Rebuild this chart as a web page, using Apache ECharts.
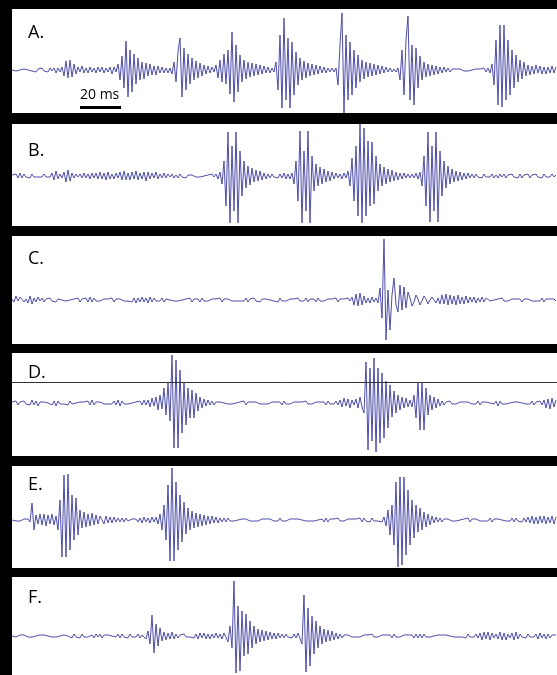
<!DOCTYPE html>
<html>
<head>
<meta charset="utf-8">
<title>Waveforms A-F</title>
<script src="https://cdn.jsdelivr.net/npm/echarts@6/dist/echarts.min.js"></script>
<style>
  html, body { margin: 0; padding: 0; background: #000; }
  #chart { width: 557px; height: 675px; }
</style>
</head>
<body>
<div id="chart"></div>
<script>
  // 每个面板的标签
  const panelLabels = ['A.', 'B.', 'C.', 'D.', 'E.', 'F.'];
  const scaleBarLabel = '20 ms';

  // waveform samples, one every ~1 ms, amplitude in screen units (+ = up)
  const waveA = [
    0,1,-1,1,0,-1,1,-1,0,1,-1,1,-2,1,-1,2,-1,1,-2,2,-1,2,-3,2,-2,3,
    -6,9,-8,10,-7,6,-4,
    3,-2,4,-3,2,-3,3,-2,2,-3,3,-2,3,-3,2,-2,3,-4,3,-2,
    6,-10,14,-18,29,-27,20,-22,16,-14,12,-10,
    8,-9,7,-6,6,-5,4,-5,4,-3,3,-3,2,-3,2,
    -4,8,-12,18,32,-27,22,-20,16,-14,12,-10,9,-8,
    7,-6,5,-4,4,-3,3,-2,
    5,-8,10,-12,16,-14,20,-24,38,-32,25,-22,15,-12,
    10,-9,8,-7,7,-6,6,-5,5,-4,4,-3,3,-3,2,-2,
    8,-20,35,-38,52,-30,32,-38,28,-25,18,-15,12,
    -10,9,-8,7,-6,6,-5,5,-4,4,-3,3,-3,2,-2,2,-2,2,
    -15,25,57,-43,35,-30,28,-25,20,-18,15,-12,10,
    -9,8,-7,7,-6,6,-5,5,-4,4,-3,3,-2,2,-2,1,-2,2,
    -10,20,-25,30,54,-30,25,-35,22,-18,14,-10,
    8,-7,6,-6,5,-5,4,-4,3,-3,3,-2,2,-2,1,-1,1,-1,1,0,-1,1,-1,1,0,-1,1,-1,1,-1,2,-2,2,-3,
    6,-15,30,-35,45,-37,45,-30,30,-25,20,-18,15,-12,
    10,-9,8,-6,5,-5,4,-4,5,-3,4,-4,3,-4,3,-3,4,-3,3
  ];
  const waveB = [
    1,-1,2,-2,3,-2,2,-1,1,-2,2,-1,1,-1,1,-1,2,-1,1,-1,
    3,-4,5,-3,2,-2,4,-6,6,-5,3,-2,2,-1,
    2,-2,3,-2,2,-3,3,-2,3,-3,4,-3,3,-4,4,-3,2,-3,3,-2,4,-4,5,-4,3,-4,4,-3,5,-4,
    3,-3,4,-5,4,-3,3,-2,4,-3,2,-2,3,-2,2,-1,2,-2,1,-2,2,-1,1,-2,
    1,-1,1,0,-1,1,-1,1,0,-1,1,-1,2,-1,2,-3,4,
    -8,15,-30,44,-47,30,-35,44,-47,25,-20,15,-12,10,-9,8,-6,
    6,-5,5,-4,3,-3,2,-2,2,-1,1,-2,2,-2,3,-3,2,-3,3,
    -8,15,-25,45,-47,25,-35,45,-47,20,-15,
    12,-10,9,-8,7,-6,5,-5,4,-3,3,-2,2,-3,3,-2,
    5,-10,18,-25,30,-40,52,-47,48,-40,35,-30,34,-28,20,-15,
    12,-10,9,-8,7,-6,6,-5,4,-4,3,-3,3,-2,2,-2,2,-2,3,-3,4,
    -10,20,-30,44,-46,30,-35,44,-46,25,-20,15,-12,
    10,-8,7,-6,5,-5,4,-4,3,-3,3,-2,2,-2,2,-1,1,-2,2,-1,1,-1,2,-2,1,-2,2,-1,2,-2,
    1,-1,2,-1,1,-2,2,-2,1,-1,2,-2,1,-1,2,-1,1,-2,2,-1,1,-1,2,-1,1
  ];
  const waveC = [
    1,-2,4,-1,3,5,-2,1,-3,4,-4,2,-2,3,-1,2,-2,
    1,-1,2,-1,1,-2,1,-1,0,1,-1,1,0,-1,1,-1,2,-2,1,-1,
    2,-2,3,-2,2,-1,1,-1,0,1,-1,1,-1,2,-2,1,-1,1,0,-1,
    1,-1,1,-2,2,-3,2,-2,3,-2,2,-3,3,-2,2,-1,1,-1,2,-2,
    1,-1,0,1,-1,1,-1,1,0,-1,1,-1,2,-2,1,-1,1,-2,2,-1,
    1,-1,0,1,-1,1,-1,2,-2,1,-1,1,0,-1,1,-1,1,-1,1,-1,
    2,-2,1,-1,2,-1,1,-2,1,-1,1,-1,0,1,-1,1,-2,2,-1,1,
    -1,0,1,-1,1,-1,2,-1,1,-1,2,-2,1,-1,1,-2,2,-1,1,-1,
    0,1,-1,1,-1,2,-2,1,-1,1,-1,2,-1,
    3,-5,6,-6,7,-5,4,-3,
    2,-3,3,-2,2,-3,
    12,-18,61,-40,10,-30,5,22,-5,-12,15,-10,13,-8,
    8,2,-6,-2,5,1,-5,-1,4,1,-4,0,3,0,-3,
    2,-4,5,-4,6,-5,5,-4,4,-5,5,-4,3,-4,4,-3,3,-2,3,-3,2,-2,3,-2,2,
    1,-1,1,0,-1,1,-1,2,-1,1,-1,0,1,-1,1,-1,1,-2,1,-1,1,0,-1,1,-1,1,-1,2,-2,1,-1,1,-1,1,-1
  ];
  const waveD = [
    1,-1,2,-2,1,-1,2,-1,1,-2,3,-2,2,-3,1,-1,1,-1,0,1,
    -2,2,-3,2,-1,1,-1,1,-2,2,-1,1,0,-1,1,-1,1,-1,2,-2,
    3,-2,1,-1,1,0,-1,1,-1,1,-1,2,-2,3,-3,2,-1,1,-1,1,
    0,-1,1,-1,2,-2,3,-2,
    3,-4,5,-3,6,-7,8,-6,
    15,-12,20,-18,48,-45,43,-45,33,-30,20,-22,15,-15,13,-15,10,-8,6,
    -5,4,-3,3,-2,2,-2,1,-1,1,-1,0,1,-1,1,-1,1,0,-1,1,
    -1,2,-2,1,-1,1,-1,1,0,-1,1,-1,1,-1,0,1,-1,1,-1,1,
    -2,2,-1,1,-1,0,1,-1,1,-1,1,-1,2,-1,1,-1,0,1,-1,1,
    -1,1,-2,2,-1,1,-1,2,-2,
    3,-4,5,-3,4,-5,3,-2,4,-5,6,-4,
    -10,41,-47,35,-38,45,-49,35,-40,30,-35,22,-25,
    18,-14,12,-10,8,-7,6,-5,5,-4,3,-4,
    8,-15,21,-27,20,-27,15,-12,
    8,-7,6,-5,4,-3,
    2,-2,1,-1,2,-1,1,-1,0,1,-1,1,-1,1,0,-1,1,-1,2,-2,
    1,-1,1,-1,0,1,-1,2,-3,2,-1,1,-1,1,0,-1,1,-1,1,-1,
    0,1,-1,1,-1,2,-2,1,-1,2,-2,
    3,-5,4,-6,5,-4,3
  ];
  const waveE = [
    0,1,-1,1,-1,0,1,-1,1,-2,
    17,-10,5,
    -4,6,-5,6,-6,5,-4,6,-5,4,
    -10,20,-37,45,-37,46,-30,25,-20,22,-15,
    10,-8,8,-7,6,-6,7,-5,5,-4,4,
    3,-4,4,-3,3,-3,3,-2,2,-2,2,-2,2,-1,1,
    1,-1,1,-2,2,-3,3,-2,2,-3,3,-2,3,-4,
    6,-10,15,-20,35,-41,52,-41,38,-30,25,-22,18,-14,12,
    -10,9,-8,7,-7,6,-6,5,-5,4,-4,4,-3,3,-3,2,-2,2,-2,2,-1,1,
    -1,1,0,-1,1,-1,1,0,-1,1,-1,1,-1,0,1,-1,1,-1,1,0,
    -1,1,-1,2,-1,1,-1,0,1,-1,1,-1,1,-1,0,1,-1,1,-1,1,
    -1,1,0,-1,1,-2,2,-2,1,-1,1,-1,2,-1,1,-1,0,1,-1,1,
    -1,1,-1,2,-2,2,-1,1,-2,2,-1,1,-1,1,-2,
    3,-6,10,-15,15,-25,38,-47,43,-45,43,-35,30,-25,20,-18,15,-12,12,-10,8,-7,6,
    -5,4,-3,3,-2,2,-2,1,-1,1,0,-1,1,-1,1,0,-1,1,-1,2,
    -2,1,-1,1,0,-1,1,-1,1,-1,2,-2,1,-1,1,-1,0,1,-1,1,
    -1,2,-2,2,-1,1,-2,2,-2,3,
    -3,4,-4,3,-4,4,-3,4,-4,3,-3,4,-4,3
  ];
  const waveF = [
    0,1,-1,0,1,-1,1,0,-1,1,-1,1,0,-1,1,-1,1,-1,0,1,
    -1,1,-1,1,0,-1,1,-1,0,1,-2,2,-1,1,-2,2,-1,1,-1,0,
    1,-2,2,-1,2,-2,1,-1,1,-1,0,1,-1,2,-2,2,-1,1,-2,2,
    -1,1,-1,2,-2,1,-1,
    -3,5,-8,21,-17,12,-10,8,
    -5,4,-4,3,-3,4,-3,2,
    -2,1,-1,2,-1,1,-1,1,-2,2,-3,3,-2,3,-3,2,-3,2,-2,3,-2,2,-3,3,
    4,-6,10,-12,55,-37,30,-35,25,-20,22,-18,15,-12,10,-8,
    7,-6,6,-5,5,-4,4,-3,3,-3,3,-2,2,-2,2,-1,1,-2,2,-2,3,
    4,-8,41,-36,28,-30,20,-18,15,-12,10,-8,
    7,-6,6,-5,5,-4,3,-3,2,
    -2,1,-1,1,0,-1,1,-1,1,-1,0,1,-1,1,-1,2,-1,1,-1,0,
    1,-1,1,-1,1,-2,2,-1,1,-1,0,1,-1,1,-1,1,-2,2,-2,2,
    -2,2,-1,1,-1,1,0,-1,1,-1,1,-1,1,-1,0,1,-1,1,-1,1,
    -1,1,-2,2,-1,1,-1,2,-2,
    3,-4,4,-3,4,-4,3,-2,2,-3,4,-4,3,-4,2,-2,3,-4,4,-3,2,
    -1,1,-2,2,-1,1,-1,2,-3,3,-2,2,-3,2,-2,1,-1,1
  ];
  const waves = [waveA, waveB, waveC, waveD, waveE, waveF];

  // 面板位置（像素）: top / height / baseline
  const panels = [
    { top: 9, height: 104, base: 70, labelY: 32 },
    { top: 124, height: 102, base: 176, labelY: 150 },
    { top: 236, height: 108, base: 300, labelY: 258 },
    { top: 353, height: 103, base: 403, labelY: 372 },
    { top: 466, height: 102, base: 520, labelY: 484 },
    { top: 577, height: 98, base: 636, labelY: 597 }
  ];
  const LEFT = 12;
  const WIDTH = 545;
  const LINE_COLOR = '#4e4eaa';

  const chart = echarts.init(document.getElementById('chart'));

  const grid = panels.map((p) => ({
    left: LEFT,
    top: p.top,
    width: WIDTH,
    height: p.height,
    show: true,
    backgroundColor: '#fff',
    borderWidth: 0
  }));

  const xAxis = panels.map((p, i) => ({
    type: 'value',
    gridIndex: i,
    min: 0,
    max: WIDTH / 2,
    show: false
  }));

  const yAxis = panels.map((p, i) => ({
    type: 'value',
    gridIndex: i,
    max: p.base - p.top,
    min: -(p.top + p.height - p.base),
    show: false
  }));

  const series = waves.map((w, i) => {
    const s = {
      type: 'line',
      xAxisIndex: i,
      yAxisIndex: i,
      data: w.map((v, k) => [k, v]),
      showSymbol: false,
      lineStyle: { color: LINE_COLOR, width: 1 },
      silent: true
    };
    if (i === 3) {
      // D 面板上的水平参考线
      s.markLine = {
        silent: true,
        symbol: 'none',
        label: { show: false },
        lineStyle: { color: '#333', width: 1, type: 'solid' },
        data: [{ yAxis: 21 }]
      };
    }
    return s;
  });

  const graphic = panels.map((p, i) => ({
    type: 'text',
    left: 28,
    top: p.labelY - 8,
    style: {
      text: panelLabels[i],
      fill: '#000',
      font: '18px "Open Sans", sans-serif'
    }
  }));

  // 20 ms scale bar
  graphic.push({
    type: 'text',
    left: 80,
    top: 88,
    style: { text: scaleBarLabel, fill: '#000', font: '14px "Open Sans", sans-serif' }
  });
  graphic.push({
    type: 'rect',
    shape: { x: 80, y: 106, width: 41, height: 3 },
    style: { fill: '#000' }
  });

  chart.setOption({
    backgroundColor: '#000',
    animation: false,
    grid,
    xAxis,
    yAxis,
    series,
    graphic
  });
</script>
</body>
</html>
